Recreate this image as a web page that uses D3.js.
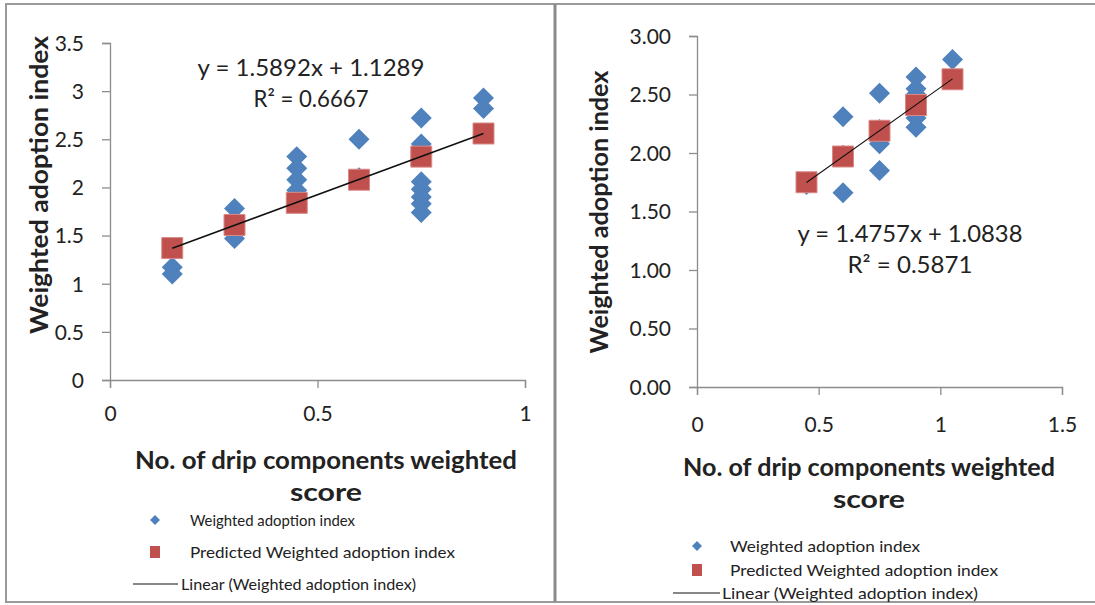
<!DOCTYPE html>
<html>
<head>
<meta charset="utf-8">
<script src="https://cdn.jsdelivr.net/npm/d3@7"></script>
<style>
  body { margin: 0; background: #fff; }
  svg text { font-family: Lato, "Open Sans", sans-serif; fill: #222; }
  .axis path, .axis line { stroke: #8c8c8c; stroke-width: 1.3; }
  .axis text { font-size: 21px; fill: #222; }
  .title { font-weight: bold; font-size: 24px; }
  .legend text { font-size: 16px; }
  .eq { font-size: 24px; }
</style>
</head>
<body>
<svg id="chart" width="1095" height="605"></svg>
<script>
// left panel
var leftObsX = [0.15, 0.15, 0.3, 0.3, 0.3, 0.45, 0.45, 0.45, 0.45, 0.45, 0.6, 0.6, 0.75, 0.75, 0.75, 0.75, 0.75, 0.75, 0.75, 0.9, 0.9];
var leftObsY = [1.17, 1.10, 1.78, 1.55, 1.47, 2.32, 2.20, 2.08, 1.97, 1.88, 2.50, 2.10, 2.72, 2.45, 2.06, 1.98, 1.90, 1.83, 1.74, 2.93, 2.82];
var leftPredX = [0.15, 0.3, 0.45, 0.6, 0.75, 0.9];
var leftPredY = [1.37, 1.61, 1.84, 2.08, 2.32, 2.56];
var leftFit = { slope: 1.5892, intercept: 1.1289, r2: 0.6667 };
var leftYTicks = [0, 0.5, 1, 1.5, 2, 2.5, 3, 3.5];
var leftXTicks = [0, 0.5, 1];

// right panel
var rightObsX = [0.45, 0.6, 0.6, 0.6, 0.75, 0.75, 0.75, 0.75, 0.9, 0.9, 0.9, 0.9, 0.9, 0.9, 1.05];
var rightObsY = [1.73, 2.31, 1.98, 1.66, 2.51, 2.20, 2.08, 1.85, 2.65, 2.55, 2.50, 2.40, 2.30, 2.22, 2.80];
var rightPredX = [0.45, 0.6, 0.75, 0.9, 1.05];
var rightPredY = [1.75, 1.97, 2.19, 2.41, 2.63];
var rightFit = { slope: 1.4757, intercept: 1.0838, r2: 0.5871 };
var rightYTicks = [0, 0.5, 1, 1.5, 2, 2.5, 3];
var rightXTicks = [0, 0.5, 1, 1.5];

const svg = d3.select('#chart');
const BLUE = '#4f81bd';
const RED = '#c0504d';

// frame: outer border and divider
svg.append('rect').attr('x', 6).attr('y', 4).attr('width', 1100).attr('height', 598)
  .attr('fill', 'none').attr('stroke', '#9a9a9a').attr('stroke-width', 2);
svg.append('line').attr('x1', 555).attr('x2', 555).attr('y1', 4).attr('y2', 602)
  .attr('stroke', '#8a8a8a').attr('stroke-width', 3);

DrawPanel({
  obsX: leftObsX, obsY: leftObsY, predX: leftPredX, predY: leftPredY, fit: leftFit,
  xTicks: leftXTicks, yTicks: leftYTicks, xDomain: [0, 1], yDomain: [0, 3.5],
  xRange: [110, 525], yRange: [380, 43], yFormat: d3.format(''),
  xLabelY: 421, yTitle: { x: 48, y: 185, w: 298 }, xTitle: { x: 326, y: 469, w: 382, w2: 72 },
  eq: { x: 311, y: 76, w: 227, w2: 115 }, lineWidth: 1.6,
  legend: { x: 155, y: 520, textX: 190, gaps: [0, 32, 64], widths: [165, 265, 235], lineX: [133, 178], lineTextX: 181 }
});

DrawPanel({
  obsX: rightObsX, obsY: rightObsY, predX: rightPredX, predY: rightPredY, fit: rightFit,
  xTicks: rightXTicks, yTicks: rightYTicks, xDomain: [0, 1.5], yDomain: [0, 3],
  xRange: [697, 1062], yRange: [387, 36], yFormat: d3.format('.2f'),
  xLabelY: 432, yTitle: { x: 608, y: 212, w: 283 }, xTitle: { x: 869, y: 476, w: 372, w2: 72 },
  eq: { x: 910, y: 242, w: 225, w2: 125 }, lineWidth: 1.1,
  legend: { x: 697, y: 546, textX: 730, gaps: [0, 24, 47], widths: [190, 268, 256], lineX: [673, 720], lineTextX: 722 }
});

function DrawPanel(cfg) {
  const x = d3.scaleLinear().domain(cfg.xDomain).range(cfg.xRange);
  const y = d3.scaleLinear().domain(cfg.yDomain).range(cfg.yRange);
  const g = svg.append('g');

  const yAxis = g.append('g').attr('class', 'axis')
    .attr('transform', `translate(${cfg.xRange[0]},0)`)
    .call(d3.axisLeft(y).tickValues(cfg.yTicks).tickFormat(cfg.yFormat).tickSize(8).tickSizeOuter(8).tickPadding(18));
  yAxis.selectAll('text').attr('dy', '0.35em');

  const xAxis = g.append('g').attr('class', 'axis')
    .attr('transform', `translate(0,${cfg.yRange[0]})`)
    .call(d3.axisBottom(x).tickValues(cfg.xTicks).tickFormat(d3.format('')).tickSize(8).tickSizeOuter(8).tickPadding(0));
  xAxis.selectAll('text').attr('dy', null).attr('y', cfg.xLabelY - cfg.yRange[0]);

  // observed points (diamonds)
  const diamond = d3.symbol(d3.symbolSquare, 220);
  g.append('g').selectAll('path')
    .data(cfg.obsX.map((d, i) => [d, cfg.obsY[i]]))
    .enter()
    .append('path')
    .attr('d', diamond)
    .attr('transform', d => `translate(${x(d[0])},${y(d[1])}) rotate(45)`)
    .attr('fill', BLUE);

  // predicted points (squares)
  const square = d3.symbol(d3.symbolSquare, 441);
  g.append('g').selectAll('path')
    .data(cfg.predX.map((d, i) => [d, cfg.predY[i]]))
    .enter()
    .append('path')
    .attr('d', square)
    .attr('transform', d => `translate(${x(d[0])},${y(d[1])})`)
    .attr('fill', RED)
    .attr('stroke', '#d98a88')
    .attr('stroke-width', 1);

  // linear trendline
  const ext = d3.extent(cfg.obsX);
  const fitLine = d3.line().x(d => x(d)).y(d => y(cfg.fit.intercept + cfg.fit.slope * d));
  g.append('path').attr('d', fitLine(ext))
    .attr('fill', 'none').attr('stroke', '#111').attr('stroke-width', cfg.lineWidth);

  // equation
  g.append('text').attr('class', 'eq').attr('text-anchor', 'middle')
    .attr('x', cfg.eq.x).attr('y', cfg.eq.y)
    .attr('textLength', cfg.eq.w).attr('lengthAdjust', 'spacingAndGlyphs')
    .text(`y = ${cfg.fit.slope}x + ${cfg.fit.intercept}`);
  g.append('text').attr('class', 'eq').attr('text-anchor', 'middle')
    .attr('x', cfg.eq.x).attr('y', cfg.eq.y + 31)
    .attr('textLength', cfg.eq.w2).attr('lengthAdjust', 'spacingAndGlyphs')
    .text(`R² = ${cfg.fit.r2}`);

  // axis titles
  g.append('text').attr('class', 'title').attr('text-anchor', 'middle')
    .attr('transform', `translate(${cfg.yTitle.x},${cfg.yTitle.y}) rotate(-90)`)
    .attr('textLength', cfg.yTitle.w).attr('lengthAdjust', 'spacingAndGlyphs')
    .text('Weighted adoption index');
  g.append('text').attr('class', 'title').attr('text-anchor', 'middle')
    .attr('x', cfg.xTitle.x).attr('y', cfg.xTitle.y)
    .attr('textLength', cfg.xTitle.w).attr('lengthAdjust', 'spacingAndGlyphs')
    .text('No. of drip components weighted');
  g.append('text').attr('class', 'title').attr('text-anchor', 'middle')
    .attr('x', cfg.xTitle.x).attr('y', cfg.xTitle.y + 32)
    .attr('textLength', cfg.xTitle.w2).attr('lengthAdjust', 'spacingAndGlyphs')
    .text('score');

  // legend
  const lg = g.append('g').attr('class', 'legend');
  const L = cfg.legend;
  lg.append('path').attr('d', d3.symbol(d3.symbolSquare, 50))
    .attr('transform', `translate(${L.x},${L.y + L.gaps[0]}) rotate(45)`).attr('fill', BLUE);
  lg.append('rect').attr('x', L.x - 5).attr('y', L.y + L.gaps[1] - 6).attr('width', 10).attr('height', 12).attr('fill', RED);
  lg.append('line').attr('x1', L.lineX[0]).attr('x2', L.lineX[1])
    .attr('y1', L.y + L.gaps[2]).attr('y2', L.y + L.gaps[2]).attr('stroke', '#111').attr('stroke-width', 1.2);
  const labels = ['Weighted adoption index', 'Predicted Weighted adoption index', 'Linear (Weighted adoption index)'];
  labels.forEach((t, i) => {
    lg.append('text')
      .attr('x', i === 2 ? L.lineTextX : L.textX)
      .attr('y', L.y + L.gaps[i])
      .attr('dy', '0.35em')
      .attr('textLength', L.widths[i])
      .attr('lengthAdjust', 'spacingAndGlyphs')
      .text(t);
  });
}
</script>
</body>
</html>
